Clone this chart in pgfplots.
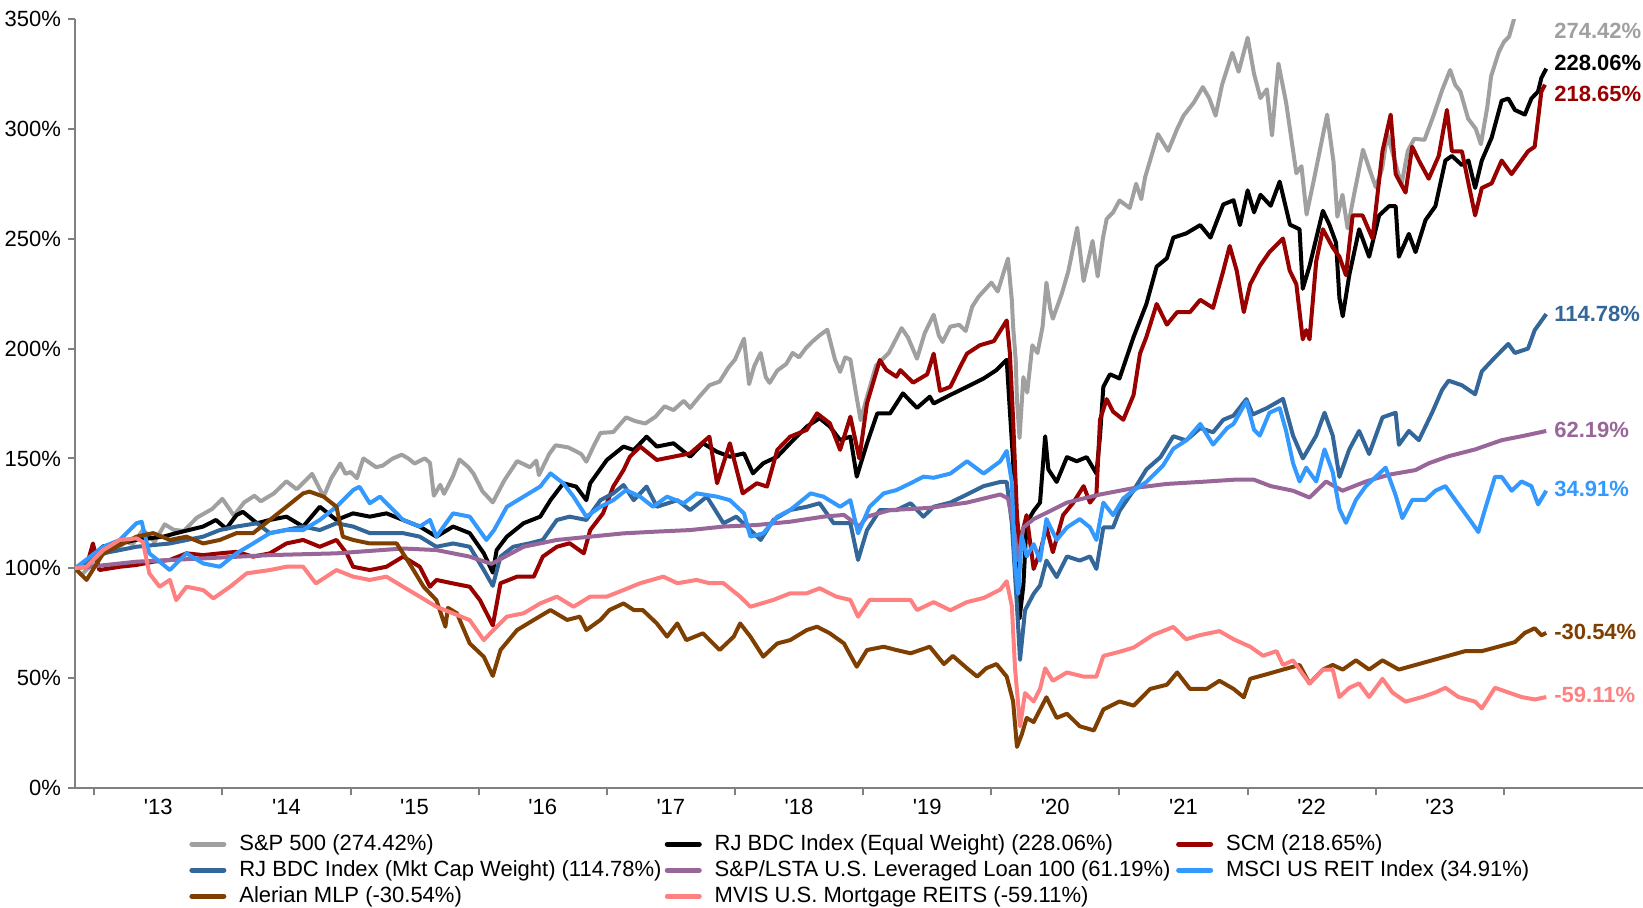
\documentclass[border=0pt]{standalone}
\usepackage{pgfplots}
\pgfplotsset{compat=1.18}
\usepackage{fontspec}
\setmainfont{Liberation Sans}
\definecolor{cSP}{HTML}{A0A0A0}
\definecolor{cEW}{HTML}{000000}
\definecolor{cSCM}{HTML}{990000}
\definecolor{cMC}{HTML}{336699}
\definecolor{cLSTA}{HTML}{996699}
\definecolor{cREIT}{HTML}{3399FF}
\definecolor{cMLP}{HTML}{7F3F00}
\definecolor{cMVIS}{HTML}{FF8080}
\definecolor{axgray}{HTML}{808080}
\begin{document}
\begin{tikzpicture}[font=\fontsize{11bp}{13bp}\selectfont]
\useasboundingbox (-37.5bp,-60bp) rectangle (784bp,394bp);
\begin{axis}[
  at={(0,0)}, anchor=south west,
  scale only axis, width=784bp, height=384.5bp,
  xmin=2012.85, xmax=2025.085, ymin=0, ymax=350,
  axis x line=bottom, axis y line=left,
  axis line style={-, draw=axgray, line width=1bp},
  clip mode=individual,
  ytick={0,50,...,350},
  yticklabels={0\%,50\%,100\%,150\%,200\%,250\%,300\%,350\%},
  xtick={2013,...,2024}, xticklabels={},
  extra x ticks={2013.5,2014.5,...,2023.5},
  extra x tick labels={\textquotesingle13,\textquotesingle14,\textquotesingle15,\textquotesingle16,\textquotesingle17,\textquotesingle18,\textquotesingle19,\textquotesingle20,\textquotesingle21,\textquotesingle22,\textquotesingle23},
  extra x tick style={major tick length=0pt, xticklabel style={yshift=-2bp}},
  tick align=outside, major tick length=3.5bp,
  tick style={draw=axgray, line width=1bp},
  every axis plot/.append style={line width=2bp, line join=round, mark=none},
  legend columns=3,
  legend cell align=left,
  legend style={at={(axis description cs:0.0727,-0.055)}, anchor=north west, draw=none, fill=none,
    inner sep=0pt, row sep=-0.4bp, column sep=0pt,
    /tikz/every odd column/.append style={column sep=4.5bp},
    font=\fontsize{11bp}{13bp}\selectfont},
  legend image code/.code={\draw[#1, line width=2.5bp, line cap=round] (0bp,0bp) -- (16bp,0bp);},
]
% S&P 500
\addplot[cSP] coordinates {(2012.85,100)(2012.9,97)(2012.97,101)(2013.0,104)(2013.06,106)(2013.12,108)(2013.2,110)(2013.25,112)(2013.3,111)(2013.38,117.5)(2013.47,112)(2013.55,120)(2013.62,117.5)(2013.7,117)(2013.8,123)(2013.86,125)(2013.92,127)(2014.0,131.6)(2014.09,124)(2014.17,130)(2014.25,133)(2014.3,130.5)(2014.4,134)(2014.5,139.6)(2014.58,136)(2014.65,140)(2014.7,143)(2014.79,132.6)(2014.85,141)(2014.92,147.7)(2014.96,143)(2015.0,143.8)(2015.05,141)(2015.1,150)(2015.2,146)(2015.25,146.7)(2015.33,150)(2015.4,151.7)(2015.45,150)(2015.5,147.7)(2015.58,150)(2015.62,148)(2015.65,133)(2015.7,138)(2015.73,133.9)(2015.8,142)(2015.85,149.5)(2015.92,146)(2015.96,143)(2016.03,135)(2016.11,130)(2016.2,140)(2016.3,148.8)(2016.4,146)(2016.45,149)(2016.47,142.4)(2016.55,152)(2016.6,156)(2016.7,155)(2016.8,152)(2016.84,148.5)(2016.9,156)(2016.95,161.6)(2017.05,162)(2017.15,168.7)(2017.22,167)(2017.3,165.9)(2017.38,169)(2017.45,173.7)(2017.52,172)(2017.6,176.2)(2017.65,173)(2017.72,178)(2017.8,183.3)(2017.88,185)(2017.95,191.5)(2018.0,195)(2018.07,204.5)(2018.11,183.8)(2018.15,192)(2018.2,198)(2018.24,187)(2018.27,184.4)(2018.33,190)(2018.4,193)(2018.45,198)(2018.5,196)(2018.55,200)(2018.6,203)(2018.66,206)(2018.72,208.6)(2018.78,195)(2018.82,189.4)(2018.86,196)(2018.9,195)(2018.94,181)(2018.98,167.4)(2019.02,176)(2019.1,192.2)(2019.2,198)(2019.3,209.3)(2019.35,205)(2019.42,195.4)(2019.48,207)(2019.55,215.4)(2019.59,206)(2019.62,203)(2019.68,210)(2019.75,210.8)(2019.8,208)(2019.85,219)(2019.9,223.6)(2020.0,230)(2020.05,226)(2020.13,241)(2020.16,222)(2020.17,210)(2020.19,195)(2020.2,176.6)(2020.22,159.3)(2020.25,187)(2020.28,180)(2020.32,201.5)(2020.36,198)(2020.4,210)(2020.43,230)(2020.46,218)(2020.48,213.6)(2020.55,225)(2020.6,235)(2020.67,255)(2020.72,230.7)(2020.79,249)(2020.83,232.8)(2020.87,250)(2020.9,259)(2020.95,262)(2021.0,267.4)(2021.08,264)(2021.13,275)(2021.17,268)(2021.2,278)(2021.3,297.6)(2021.38,290)(2021.45,300)(2021.5,306)(2021.58,312)(2021.65,319)(2021.7,314)(2021.75,306)(2021.8,320)(2021.88,334.6)(2021.93,326)(2022.0,341.5)(2022.05,325)(2022.1,314)(2022.15,318)(2022.19,297)(2022.24,329.7)(2022.3,312)(2022.38,279.8)(2022.42,283)(2022.46,261)(2022.52,277.7)(2022.58,295)(2022.62,306.5)(2022.67,285)(2022.7,260)(2022.74,270)(2022.78,254.7)(2022.83,270)(2022.9,290.5)(2022.96,280)(2023.0,273.4)(2023.05,282)(2023.09,297.6)(2023.15,285)(2023.2,274.5)(2023.25,290)(2023.3,295.5)(2023.38,295)(2023.45,306)(2023.52,318)(2023.58,326.8)(2023.62,320)(2023.66,317)(2023.72,304.7)(2023.78,300)(2023.82,293)(2023.87,310)(2023.9,324)(2023.96,335)(2024.0,339.6)(2024.04,342)(2024.08,350.3)(2024.15,360)(2024.2,366.7)(2024.24,374)(2024.3,353.7)(2024.33,374.4)};
\addlegendentry{\makebox[210.7bp][l]{S\&P 500 (274.42\%)}}
% RJ BDC EW
\addplot[cEW] coordinates {(2012.85,100)(2012.9,101)(2013.07,110)(2013.2,111.3)(2013.33,113)(2013.54,114.4)(2013.64,116)(2013.85,119)(2013.95,122)(2014.03,118)(2014.11,124.2)(2014.16,125.7)(2014.27,120.5)(2014.37,122)(2014.5,123.5)(2014.63,119)(2014.76,128)(2014.89,122)(2015.02,125)(2015.15,123.5)(2015.28,125)(2015.41,122)(2015.54,119)(2015.67,114.4)(2015.8,119)(2015.93,116)(2016.04,106.8)(2016.11,98)(2016.14,108.3)(2016.22,114.4)(2016.35,120.5)(2016.48,123.5)(2016.56,131)(2016.66,138.7)(2016.76,137.2)(2016.84,131)(2016.87,138.7)(2017.0,149.3)(2017.13,155.4)(2017.21,153.8)(2017.31,159.9)(2017.39,155.4)(2017.52,156.9)(2017.65,150.8)(2017.75,156.9)(2017.86,153)(2017.96,150.8)(2018.07,152.3)(2018.14,143.2)(2018.22,147.8)(2018.33,150.8)(2018.43,156.9)(2018.56,164.5)(2018.66,168.3)(2018.74,164.5)(2018.82,158.4)(2018.9,159.9)(2018.95,141.7)(2019.03,156.9)(2019.11,170.5)(2019.21,170.5)(2019.31,179.6)(2019.42,173)(2019.52,178.1)(2019.55,175)(2019.68,178.9)(2019.81,182.6)(2019.94,186.4)(2020.04,190.2)(2020.12,194.9)(2020.145,171.3)(2020.17,148.7)(2020.2,111)(2020.22,77.1)(2020.25,92.2)(2020.275,120.5)(2020.33,126.1)(2020.38,129.9)(2020.42,160.1)(2020.445,145)(2020.51,139.3)(2020.59,150.6)(2020.666,148.7)(2020.744,150.6)(2020.82,143.1)(2020.848,160.1)(2020.874,182.6)(2020.926,188.3)(2021.0,186.4)(2021.11,205.3)(2021.21,220.3)(2021.29,237.3)(2021.37,241.1)(2021.42,250.5)(2021.52,252.4)(2021.63,256.2)(2021.71,250.5)(2021.81,265.6)(2021.89,267.5)(2021.94,256.2)(2022.0,272)(2022.05,262)(2022.1,270)(2022.18,265)(2022.25,276)(2022.33,256.4)(2022.405,254.3)(2022.43,227.2)(2022.483,237.6)(2022.587,262.7)(2022.638,256.4)(2022.69,248.1)(2022.716,223)(2022.742,214.7)(2022.793,233.4)(2022.87,254.3)(2022.948,241.8)(2023.026,260.6)(2023.103,264.8)(2023.155,264.8)(2023.18,241.8)(2023.258,252.2)(2023.31,243.9)(2023.388,258.5)(2023.465,264.8)(2023.543,285.6)(2023.594,287.7)(2023.672,283.5)(2023.723,285.6)(2023.775,273.1)(2023.827,285.6)(2023.904,296)(2023.982,312.8)(2024.034,313.8)(2024.085,308.6)(2024.163,306.5)(2024.214,313.8)(2024.266,317)(2024.292,323.2)(2024.33,327.4)};
\addlegendentry{\makebox[228.7bp][l]{RJ BDC Index (Equal Weight) (228.06\%)}}
% SCM
\addplot[cSCM] coordinates {(2012.85,100)(2012.94,101)(2012.99,111.3)(2013.04,99.2)(2013.2,100.7)(2013.33,101.5)(2013.46,103)(2013.59,103.8)(2013.72,106.8)(2013.85,106)(2013.98,106.8)(2014.11,107.5)(2014.24,105.3)(2014.37,106.8)(2014.5,111.3)(2014.63,112.9)(2014.76,109.8)(2014.89,112.9)(2014.97,106.8)(2015.02,100.7)(2015.15,99.2)(2015.28,100.7)(2015.41,105.3)(2015.54,100.7)(2015.62,91.6)(2015.67,94.7)(2015.8,93.1)(2015.93,91.6)(2016.01,85.5)(2016.11,74)(2016.17,93.2)(2016.3,96.2)(2016.43,96.2)(2016.5,105.3)(2016.61,109.8)(2016.71,111.4)(2016.82,106.8)(2016.87,117.4)(2016.97,125)(2017.05,137.2)(2017.13,144.7)(2017.18,150.8)(2017.26,155.4)(2017.39,149.3)(2017.52,150.8)(2017.65,152.3)(2017.8,159.9)(2017.86,138.7)(2017.96,156.9)(2018.06,134.1)(2018.17,138.7)(2018.25,137.2)(2018.33,153.9)(2018.43,159.9)(2018.56,163)(2018.64,170.5)(2018.74,166)(2018.82,153.9)(2018.9,169)(2018.97,150)(2019.03,175.1)(2019.13,194.8)(2019.18,190.3)(2019.26,187.2)(2019.29,190.2)(2019.39,184.5)(2019.5,188.3)(2019.55,197.7)(2019.6,180.8)(2019.68,182.6)(2019.76,192.1)(2019.81,197.7)(2019.91,201.5)(2020.02,203.4)(2020.12,212.8)(2020.145,197.7)(2020.17,167.6)(2020.2,124.2)(2020.22,111)(2020.275,124.2)(2020.33,99.7)(2020.38,107.3)(2020.43,118.6)(2020.48,107.3)(2020.56,124.2)(2020.64,129.9)(2020.72,137.4)(2020.77,129.9)(2020.82,133.7)(2020.848,167.6)(2020.9,177)(2020.95,171.3)(2021.03,167.6)(2021.11,178.9)(2021.16,197.7)(2021.21,205.3)(2021.29,220.3)(2021.37,210.9)(2021.45,216.6)(2021.55,216.6)(2021.63,222.2)(2021.73,218.5)(2021.81,235.4)(2021.86,246.7)(2021.915,235.4)(2021.97,216.6)(2022.02,229.3)(2022.095,237.6)(2022.17,243.9)(2022.276,250.1)(2022.328,235.5)(2022.38,229.3)(2022.43,204.2)(2022.457,208.4)(2022.483,204.2)(2022.535,239.7)(2022.587,254.3)(2022.664,246)(2022.716,241.8)(2022.767,233.4)(2022.819,260.6)(2022.897,260.6)(2022.974,250.1)(2023.052,289.8)(2023.116,306.5)(2023.155,279.4)(2023.232,271)(2023.284,291.9)(2023.336,285.6)(2023.413,277.3)(2023.491,287.7)(2023.555,308.6)(2023.594,289.8)(2023.672,289.8)(2023.723,275.2)(2023.775,260.6)(2023.827,273.1)(2023.904,275.2)(2023.982,285.6)(2024.059,279.4)(2024.11,283.5)(2024.188,289.8)(2024.24,291.9)(2024.266,304.4)(2024.292,317)(2024.32,320.1)};
\addlegendentry{SCM (218.65\%)}
% RJ BDC Mkt Cap
\addplot[cMC] coordinates {(2012.85,100)(2013.07,106.8)(2013.33,109.8)(2013.59,111.3)(2013.85,114.4)(2013.98,117.4)(2014.11,119)(2014.27,120.5)(2014.37,116)(2014.63,119)(2014.76,117.4)(2014.89,120.5)(2015.02,119)(2015.15,116)(2015.41,116)(2015.54,114.4)(2015.67,109.8)(2015.8,111.3)(2015.93,109.8)(2016.04,99.2)(2016.11,92)(2016.17,105.3)(2016.27,109.8)(2016.4,111.4)(2016.5,112.9)(2016.61,122)(2016.71,123.5)(2016.84,122)(2016.95,131)(2017.05,134.1)(2017.13,137.9)(2017.21,131)(2017.31,137.2)(2017.39,128)(2017.55,131)(2017.65,126.5)(2017.78,132.6)(2017.91,120.5)(2018.01,123.5)(2018.12,117.4)(2018.2,112.9)(2018.3,122)(2018.43,126.5)(2018.56,128)(2018.66,129.6)(2018.77,120.5)(2018.9,120.5)(2018.96,103.8)(2019.03,117.4)(2019.13,126.5)(2019.26,126.5)(2019.37,129.6)(2019.47,123.5)(2019.55,128)(2019.68,129.9)(2019.81,133.6)(2019.94,137.4)(2020.07,139.3)(2020.12,139.3)(2020.16,120.5)(2020.2,82.8)(2020.224,58.3)(2020.263,80.9)(2020.33,88.4)(2020.38,92.2)(2020.43,103.5)(2020.51,96)(2020.59,105.4)(2020.69,103.5)(2020.77,105.4)(2020.82,99.7)(2020.874,118.6)(2020.95,118.6)(2021.0,126.1)(2021.11,135.5)(2021.21,145)(2021.32,150.6)(2021.42,160.1)(2021.52,158.2)(2021.63,163.8)(2021.73,161.9)(2021.81,167.6)(2021.89,169.5)(2021.99,177)(2022.04,170)(2022.15,172.9)(2022.276,177.1)(2022.354,160.4)(2022.431,150)(2022.535,160.4)(2022.6,170.8)(2022.664,160.4)(2022.716,141.6)(2022.793,154.1)(2022.87,162.5)(2022.948,152)(2023.052,168.7)(2023.155,170.8)(2023.18,156.2)(2023.258,162.5)(2023.336,158.3)(2023.439,170.8)(2023.517,181.2)(2023.568,185.4)(2023.672,183.3)(2023.775,179.2)(2023.827,189.6)(2023.93,196)(2024.034,202.1)(2024.085,198)(2024.188,200)(2024.24,208.4)(2024.33,215.7)};
\addlegendentry{\makebox[210.7bp][l]{RJ BDC Index (Mkt Cap Weight) (114.78\%)}}
% LSTA
\addplot[cLSTA] coordinates {(2012.85,100)(2013.33,103)(2013.85,104.5)(2014.37,106)(2014.89,106.8)(2015.41,109)(2015.67,108.3)(2015.93,105.3)(2016.1,102)(2016.35,109.8)(2016.61,112.9)(2016.87,114.4)(2017.13,115.9)(2017.39,116.7)(2017.65,117.4)(2017.91,119)(2018.17,119.7)(2018.43,121.2)(2018.69,123.5)(2018.85,124.3)(2018.97,119)(2019.03,123.5)(2019.21,126.5)(2019.52,127.5)(2019.81,129.9)(2020.07,133.6)(2020.13,131.8)(2020.17,120.5)(2020.21,103.5)(2020.25,118.6)(2020.33,122.4)(2020.46,126.1)(2020.59,129.9)(2020.72,131.8)(2020.85,133.6)(2021.11,136.5)(2021.37,138.4)(2021.63,139.3)(2021.89,140.3)(2022.05,140.3)(2022.18,137.4)(2022.354,135.3)(2022.483,132.2)(2022.612,139.5)(2022.74,135.3)(2022.922,139.5)(2023.103,142.6)(2023.31,144.7)(2023.413,147.8)(2023.568,151)(2023.775,154.1)(2023.982,158.3)(2024.163,160.4)(2024.33,162.5)};
\addlegendentry{\makebox[228.7bp][l]{S\&P/LSTA U.S. Leveraged Loan 100 (61.19\%)}}
% MSCI US REIT
\addplot[cREIT] coordinates {(2012.85,100)(2013.07,109.8)(2013.2,112.9)(2013.33,120.5)(2013.37,121.2)(2013.43,106.8)(2013.59,99.2)(2013.72,106.8)(2013.85,102.2)(2013.98,100.7)(2014.11,106.8)(2014.24,111.3)(2014.37,116)(2014.5,117.4)(2014.63,117.4)(2014.76,122)(2014.89,128)(2015.02,135.6)(2015.07,137.1)(2015.15,129.6)(2015.23,132.6)(2015.41,122)(2015.54,119)(2015.62,122)(2015.67,114.4)(2015.8,125)(2015.93,123.5)(2016.06,112.9)(2016.12,117.4)(2016.22,128)(2016.35,132.6)(2016.48,137.2)(2016.56,143.2)(2016.66,138.7)(2016.74,132.6)(2016.84,123.5)(2016.95,128)(2017.05,131)(2017.15,135.6)(2017.26,132.6)(2017.36,128)(2017.47,132.6)(2017.6,129.6)(2017.7,134.1)(2017.86,132.6)(2017.96,131)(2018.07,125)(2018.12,114.4)(2018.22,115.9)(2018.33,123.5)(2018.43,126.5)(2018.59,134.1)(2018.69,132.6)(2018.82,128)(2018.9,131)(2018.96,115.9)(2019.05,128)(2019.16,134.1)(2019.26,135.6)(2019.37,138.7)(2019.47,141.7)(2019.55,141.2)(2019.68,143.1)(2019.81,148.7)(2019.94,143.1)(2020.07,148.7)(2020.12,153.4)(2020.16,139.3)(2020.185,101.6)(2020.21,88.4)(2020.237,114.8)(2020.276,105.4)(2020.33,111)(2020.38,103.5)(2020.43,122.4)(2020.51,112.9)(2020.59,118.6)(2020.69,122.4)(2020.77,118.6)(2020.82,112.9)(2020.874,129.9)(2020.95,124.2)(2021.03,131.8)(2021.11,135.5)(2021.21,139.3)(2021.34,146.8)(2021.42,154.4)(2021.52,158.2)(2021.63,165.7)(2021.73,156.3)(2021.84,163.8)(2021.89,165.7)(2021.99,176)(2022.05,163)(2022.095,160.4)(2022.17,170.8)(2022.25,172.9)(2022.3,162.5)(2022.354,147.9)(2022.405,139.5)(2022.457,145.8)(2022.535,139.5)(2022.6,154.1)(2022.664,143.7)(2022.716,127)(2022.767,120.7)(2022.845,131.1)(2022.922,137.4)(2023.0,141.6)(2023.077,145.8)(2023.155,133.2)(2023.207,122.8)(2023.284,131.1)(2023.388,131.1)(2023.465,135.3)(2023.543,137.4)(2023.62,131.1)(2023.698,124.9)(2023.75,120.7)(2023.8,116.5)(2023.853,127)(2023.93,141.6)(2023.982,141.6)(2024.06,135.3)(2024.137,139.5)(2024.214,137.4)(2024.266,129.1)(2024.33,135.3)};
\addlegendentry{MSCI US REIT Index (34.91\%)}
% Alerian MLP
\addplot[cMLP] coordinates {(2012.85,100)(2012.94,94.7)(2013.07,106.8)(2013.33,114.4)(2013.46,116)(2013.59,112.9)(2013.72,114.4)(2013.85,111.3)(2013.98,112.9)(2014.11,116)(2014.24,116)(2014.37,122)(2014.5,128)(2014.63,134.1)(2014.68,134.9)(2014.79,132.6)(2014.89,128)(2014.94,114.4)(2015.02,112.9)(2015.15,111.3)(2015.28,111.3)(2015.36,111.3)(2015.46,102.2)(2015.57,91.6)(2015.67,85.5)(2015.74,73.4)(2015.76,82)(2015.83,79.5)(2015.93,65.8)(2016.04,59.7)(2016.11,51)(2016.17,62.8)(2016.3,71.9)(2016.43,76.5)(2016.56,81)(2016.69,76.5)(2016.79,78)(2016.84,71.9)(2016.95,76.5)(2017.02,81)(2017.13,84)(2017.21,81)(2017.28,81)(2017.39,74.9)(2017.47,68.9)(2017.55,74.9)(2017.62,67.3)(2017.75,70.4)(2017.88,62.8)(2017.99,68.9)(2018.04,74.9)(2018.12,68.9)(2018.22,59.8)(2018.33,65.8)(2018.43,67.3)(2018.56,71.9)(2018.64,73.4)(2018.74,70.4)(2018.85,65.8)(2018.95,55.2)(2019.03,62.8)(2019.16,64.3)(2019.26,62.8)(2019.37,61.3)(2019.52,64.3)(2019.63,56.4)(2019.7,60.1)(2019.81,54.5)(2019.89,50.7)(2019.96,54.5)(2020.04,56.4)(2020.12,50.7)(2020.17,39.4)(2020.2,18.7)(2020.237,24.3)(2020.276,31.9)(2020.33,30)(2020.43,41.3)(2020.51,31.9)(2020.59,33.8)(2020.69,28.1)(2020.8,26.2)(2020.874,35.7)(2021.0,39.4)(2021.11,37.5)(2021.24,45.1)(2021.37,47)(2021.45,52.6)(2021.55,45.1)(2021.68,45.1)(2021.78,48.8)(2021.89,45.1)(2021.97,41.3)(2022.02,49.7)(2022.15,51.8)(2022.276,53.9)(2022.405,56)(2022.483,47.6)(2022.587,53.9)(2022.664,56)(2022.742,53.9)(2022.845,58.1)(2022.948,53.9)(2023.052,58.1)(2023.18,53.9)(2023.31,56)(2023.439,58.1)(2023.568,60.2)(2023.698,62.3)(2023.827,62.3)(2023.956,64.3)(2024.085,66.4)(2024.163,70.6)(2024.24,72.7)(2024.292,69.5)(2024.33,70.6)};
\addlegendentry{Alerian MLP (-30.54\%)}
% MVIS
\addplot[cMVIS] coordinates {(2012.85,100)(2012.94,100.7)(2013.07,108.3)(2013.2,112.9)(2013.33,113.6)(2013.38,112)(2013.43,97.7)(2013.51,91.6)(2013.59,94.7)(2013.64,85.5)(2013.72,91.6)(2013.85,90.1)(2013.93,86.3)(2014.06,91.6)(2014.19,97.7)(2014.37,99.2)(2014.5,100.7)(2014.63,100.7)(2014.73,93.1)(2014.89,99.2)(2015.02,96.2)(2015.15,94.7)(2015.28,96.2)(2015.41,91.6)(2015.54,87.1)(2015.67,82.5)(2015.8,79.5)(2015.93,76.4)(2016.04,67.3)(2016.09,70.4)(2016.22,78)(2016.35,79.5)(2016.48,84)(2016.61,87.1)(2016.74,82.5)(2016.87,87.1)(2017.0,87.1)(2017.13,90.1)(2017.26,93.2)(2017.44,96.2)(2017.55,93.2)(2017.7,94.7)(2017.8,93.2)(2017.91,93.2)(2018.04,87.1)(2018.12,82.5)(2018.3,85.6)(2018.43,88.6)(2018.56,88.6)(2018.66,90.9)(2018.79,87.1)(2018.9,85.6)(2018.96,78)(2019.05,85.6)(2019.21,85.6)(2019.37,85.6)(2019.42,81)(2019.55,84.6)(2019.68,80.9)(2019.81,84.6)(2019.94,86.5)(2020.07,90.3)(2020.12,94.1)(2020.16,82.8)(2020.185,54.5)(2020.224,28.1)(2020.263,43.2)(2020.33,39.4)(2020.38,45.1)(2020.42,54.5)(2020.48,48.8)(2020.59,52.6)(2020.72,50.7)(2020.82,50.7)(2020.874,60.1)(2021.0,62)(2021.11,63.9)(2021.26,69.6)(2021.42,73.3)(2021.52,67.7)(2021.63,69.6)(2021.78,71.4)(2021.89,67.7)(2022.02,64.3)(2022.12,60.2)(2022.225,62.3)(2022.276,56)(2022.354,58.1)(2022.43,51.8)(2022.483,47.6)(2022.587,53.9)(2022.664,53.9)(2022.716,41.4)(2022.793,45.6)(2022.87,47.6)(2022.948,41.4)(2023.052,49.7)(2023.129,43.5)(2023.232,39.3)(2023.362,41.4)(2023.465,43.5)(2023.543,45.6)(2023.646,41.4)(2023.775,39.3)(2023.827,36.2)(2023.93,45.6)(2024.034,43.5)(2024.137,41.4)(2024.24,40.3)(2024.33,41.4)};
\addlegendentry{MVIS U.S. Mortgage REITS (-59.11\%)}
% end labels
\begin{scope}[every node/.style={anchor=west, inner sep=0pt, font=\fontsize{11bp}{13bp}\selectfont\bfseries}]
\node[text=cSP] at (axis cs:2024.39,344.4) {274.42\%};
\node[text=cEW] at (axis cs:2024.39,330) {228.06\%};
\node[text=cSCM] at (axis cs:2024.39,315.7) {218.65\%};
\node[text=cMC] at (axis cs:2024.39,215.6) {114.78\%};
\node[text=cLSTA] at (axis cs:2024.39,163.1) {62.19\%};
\node[text=cREIT] at (axis cs:2024.39,136) {34.91\%};
\node[text=cMLP] at (axis cs:2024.39,71.1) {-30.54\%};
\node[text=cMVIS] at (axis cs:2024.39,42.5) {-59.11\%};
\end{scope}
\end{axis}
\end{tikzpicture}
\end{document}
